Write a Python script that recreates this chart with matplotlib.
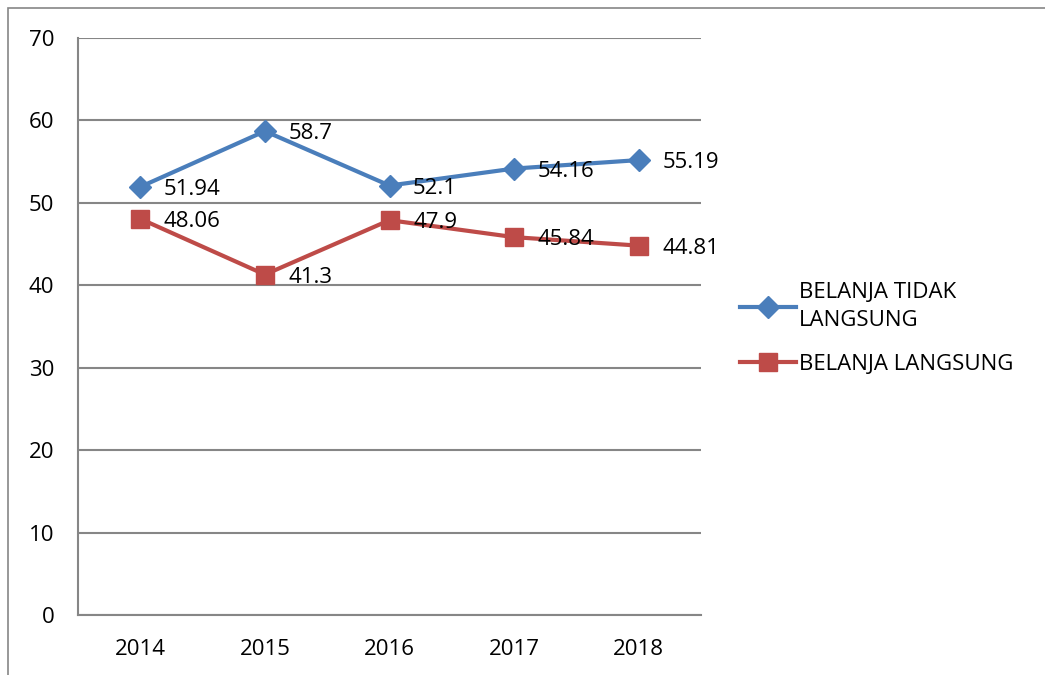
import matplotlib as mpl
import matplotlib.pyplot as plt
from matplotlib.patches import Rectangle

mpl.rcParams['font.family'] = ['Open Sans', 'DejaVu Sans']

years = ['2014', '2015', '2016', '2017', '2018']
tidak_langsung = [51.94, 58.7, 52.1, 54.16, 55.19]
langsung = [48.06, 41.3, 47.9, 45.84, 44.81]
series_names = ['BELANJA TIDAK\nLANGSUNG', 'BELANJA LANGSUNG']

blue = '#4A7EBB'
red = '#BE4B48'
grid_gray = '#868686'
fs = 16

fig = plt.figure(figsize=(10.45, 6.75), dpi=100)
# outer chart border (cropped at right and bottom like the reference)
fig.patches.append(Rectangle((8 / 1045, -0.1), 1.2, 1 - 8 / 675 + 0.1,
                             transform=fig.transFigure, fill=False,
                             edgecolor=grid_gray, linewidth=1.2))

ax = fig.add_axes([78 / 1045, 1 - 615 / 675, (701 - 78) / 1045, (615 - 38) / 675])
x = list(range(len(years)))

ax.plot(x, tidak_langsung, color=blue, linewidth=3, marker='D', markersize=11.5,
        label=series_names[0], zorder=3)
ax.plot(x, langsung, color=red, linewidth=3, marker='s', markersize=13,
        label=series_names[1], zorder=3)

for xi, v in zip(x, tidak_langsung):
    ax.annotate(f'{v:g}', (xi, v), xytext=(17, -2), textcoords='offset points',
                ha='left', va='center', fontsize=fs)
for xi, v in zip(x, langsung):
    ax.annotate(f'{v:g}', (xi, v), xytext=(17, -2), textcoords='offset points',
                ha='left', va='center', fontsize=fs)

ax.set_xlim(-0.5, 4.5)
ax.set_ylim(0, 70)
ax.set_yticks(range(0, 71, 10))
ax.set_xticks(x)
ax.set_xticklabels(years)
ax.tick_params(axis='both', length=0, labelsize=fs)
ax.tick_params(axis='y', pad=17)
ax.tick_params(axis='x', pad=17)
ax.grid(axis='y', color=grid_gray, linewidth=1.5)
ax.set_axisbelow(True)
for s in ['top', 'right']:
    ax.spines[s].set_visible(False)
for s in ['left', 'bottom']:
    ax.spines[s].set_color(grid_gray)
    ax.spines[s].set_linewidth(1.5)

leg = fig.legend(loc='upper left', bbox_to_anchor=(729 / 1045, 1 - 271 / 675),
                 frameon=False, fontsize=fs, handlelength=2.5, handletextpad=0.15,
                 labelspacing=1.0, borderpad=0)
for t in leg.get_texts():
    t.set_linespacing(1.45)

fig.savefig('out.png', dpi=100)
